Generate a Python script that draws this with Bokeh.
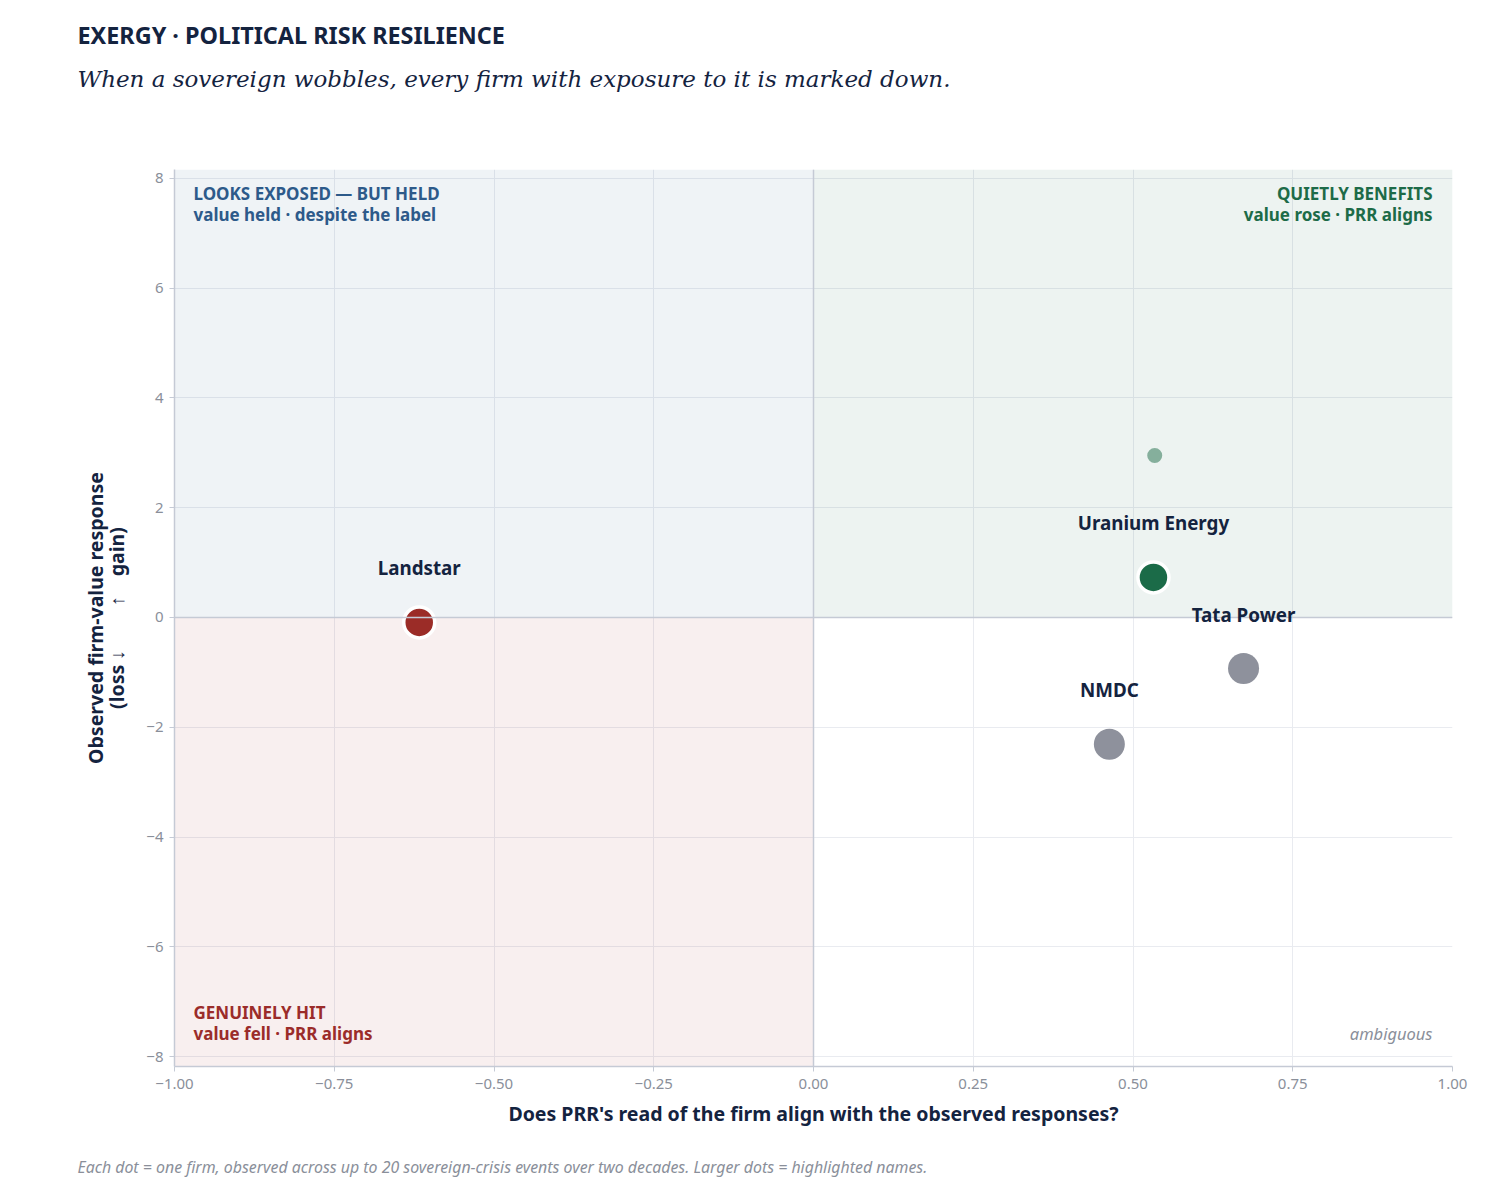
from bokeh.plotting import figure
from bokeh.layouts import column
from bokeh.models import (Range1d, BoxAnnotation, Span, Label, LabelSet,
                          ColumnDataSource, FixedTicker)
from bokeh.core.properties import value
from bokeh.embed import file_html
from bokeh.resources import INLINE

# ---- data ----
names = ["Landstar", "Uranium Energy", "Tata Power", "NMDC"]
alignment = [-0.617, 0.532, 0.673, 0.463]
response = [-0.09, 0.73, -0.93, -2.31]
dot_colors = ["#9b2c27", "#1b6b48", "#8e919c", "#8e919c"]

other_alignment = [0.534]
other_response = [2.95]

x_ticks = [-1.0, -0.75, -0.5, -0.25, 0.0, 0.25, 0.5, 0.75, 1.0]
x_tick_labels = ["\u22121.00", "\u22120.75", "\u22120.50", "\u22120.25", "0.00",
                 "0.25", "0.50", "0.75", "1.00"]
y_ticks = [-8, -6, -4, -2, 0, 2, 4, 6, 8]
y_tick_labels = ["\u22128", "\u22126", "\u22124", "\u22122", "0", "2", "4", "6", "8"]

NAVY = "#14233f"
GREY = "#8a8f9a"
AXIS = "#c5cad5"
SANS = "Noto Sans"
BLUE, GREEN, RED = "#2d5a8a", "#1d6b48", "#9b2c2a"

W = 1512
HEAD_H = 150                     # header strip (page 0..150)
TOPB = 19                        # main top border (frame starts at page 169)
FH = 897                         # frame height (page 169..1066)
B = 84                           # main bottom border (to page 1150)
MAIN_H = TOPB + FH + B
FOOT_H = 1204 - HEAD_H - MAIN_H  # footnote strip
L, R = 174, 60
FW = W - L - R
FRAME_TOP = HEAD_H + TOPB


def strip(h):
    f = figure(width=W, height=h, output_backend="svg", toolbar_location=None,
               x_range=Range1d(0, 1), y_range=Range1d(0, 1),
               x_axis_type=None, y_axis_type=None, min_border=0, title=None,
               frame_align=False)
    f.outline_line_color = None
    f.background_fill_color = "white"
    f.border_fill_color = "white"
    return f


# ---- header ----
head = strip(HEAD_H)
head.add_layout(Label(x=77, y=HEAD_H - 34, x_units="screen", y_units="screen",
                      text="EXERGY \u00b7 POLITICAL RISK RESILIENCE",
                      text_font=SANS, text_font_style="bold", text_font_size="23.4px",
                      text_color=NAVY, text_baseline="middle"))
head.add_layout(Label(x=77, y=HEAD_H - 78, x_units="screen", y_units="screen",
                      text="When a sovereign wobbles, every firm with exposure to it is marked down.",
                      text_font="DejaVu Serif", text_font_style="italic",
                      text_font_size="23px", text_color=NAVY, text_baseline="middle"))

# ---- main ----
p = figure(width=W, height=MAIN_H, output_backend="svg", toolbar_location=None,
           x_range=Range1d(-1, 1), y_range=Range1d(-8.18, 8.16), title=None,
           min_border_left=L, min_border_right=R, min_border_top=TOPB,
           min_border_bottom=B, frame_align=False)
p.outline_line_color = None
p.background_fill_color = "white"
p.border_fill_color = "white"

p.add_layout(BoxAnnotation(right=0, bottom=0, fill_color=BLUE, fill_alpha=0.075,
                           line_color=None, level="underlay"))
p.add_layout(BoxAnnotation(left=0, bottom=0, fill_color=GREEN, fill_alpha=0.08,
                           line_color=None, level="underlay"))
p.add_layout(BoxAnnotation(right=0, top=0, fill_color=RED, fill_alpha=0.075,
                           line_color=None, level="underlay"))

p.xgrid.ticker = FixedTicker(ticks=x_ticks)
p.ygrid.ticker = FixedTicker(ticks=y_ticks)
for g in (p.xgrid, p.ygrid):
    g.grid_line_color = "#e9ebf0"
    g.grid_line_width = 1

p.add_layout(Span(location=0, dimension="height", line_color=AXIS, line_width=1.5))
p.add_layout(Span(location=0, dimension="width", line_color=AXIS, line_width=1.5))

p.xaxis.ticker = FixedTicker(ticks=x_ticks)
p.yaxis.ticker = FixedTicker(ticks=y_ticks)
p.xaxis.major_label_overrides = {float(v): s for v, s in zip(x_ticks, x_tick_labels)}
p.yaxis.major_label_overrides = {float(v): s for v, s in zip(y_ticks, y_tick_labels)}
for ax in (p.xaxis, p.yaxis):
    ax.axis_line_color = AXIS
    ax.axis_line_width = 1.5
    ax.major_tick_line_color = AXIS
    ax.major_tick_in = 0
    ax.major_tick_out = 5
    ax.minor_tick_line_color = None
    ax.major_label_text_color = GREY
    ax.major_label_text_font = SANS
    ax.major_label_text_font_size = "15px"
    ax.axis_label_text_color = NAVY
    ax.axis_label_text_font = SANS
    ax.axis_label_text_font_style = "bold"
    ax.axis_label_text_font_size = "19.5px"
p.xaxis.axis_label = "Does PRR's read of the firm align with the observed responses?"
p.yaxis.axis_label = ("Observed firm-value response\n"
                      "(loss\u00a0\u2193\u2003\u2003\u00a0\u2191\u2002\u00a0\u00a0gain)")
p.yaxis.axis_label_text_line_height = 0.78
p.xaxis.major_label_standoff = 7
p.yaxis.major_label_standoff = 6
p.xaxis.axis_label_standoff = 8
p.yaxis.axis_label_standoff = 13

p.scatter(other_alignment, other_response, size=15, color=GREEN, alpha=0.5,
          line_color=None)
src = ColumnDataSource(dict(x=alignment, y=response, name=names, color=dot_colors,
                            lw=[3.5, 3.5, 0, 0]))
p.scatter("x", "y", source=src, size=31, fill_color="color", line_color="white",
          line_width="lw")
p.add_layout(LabelSet(x="x", y="y", text="name", source=src, y_offset=54,
                      text_align="center", text_baseline="middle",
                      text_font=value(SANS), text_font_style="bold",
                      text_font_size="18.8px", text_color=NAVY))


def lab(text, sx, y_page, color, align="left", style="bold", size="17px"):
    p.add_layout(Label(x=sx, y=FH - (y_page - FRAME_TOP), x_units="screen",
                       y_units="screen", text=text, text_align=align,
                       text_baseline="middle", text_font=SANS,
                       text_font_style=style, text_font_size=size,
                       text_color=color))


lab("LOOKS EXPOSED \u2014 BUT HELD", 19, 193, BLUE)
lab("value held \u00b7 despite the label", 19, 214, BLUE)
lab("QUIETLY BENEFITS", FW - 20, 193, GREEN, align="right")
lab("value rose \u00b7 PRR aligns", FW - 20, 214, GREEN, align="right")
lab("GENUINELY HIT", 19, 1012, RED)
lab("value fell \u00b7 PRR aligns", 19, 1033, RED)
lab("ambiguous", FW - 20, 1033, GREY, align="right", style="italic", size="16.5px")

# ---- footnote ----
foot = strip(FOOT_H)
foot.add_layout(Label(x=77, y=FOOT_H - (1166 - HEAD_H - MAIN_H), x_units="screen",
                      y_units="screen",
                      text="Each dot = one firm, observed across up to 20 sovereign-crisis events over two decades. Larger dots = highlighted names.",
                      text_font=SANS, text_font_style="italic", text_font_size="15.9px",
                      text_color=GREY, text_baseline="middle"))

layout = column(head, p, foot, spacing=0)
open("out.html", "w").write(file_html(layout, INLINE))
